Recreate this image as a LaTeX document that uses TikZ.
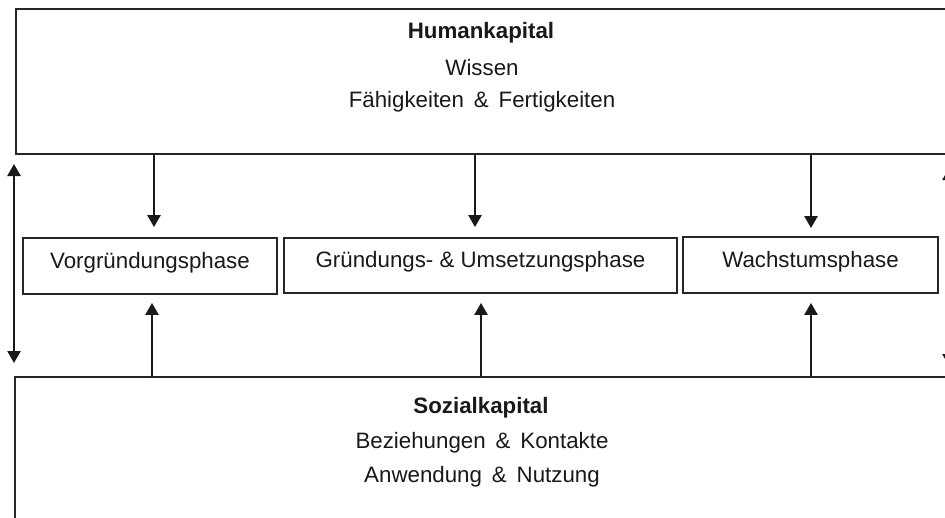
\documentclass[tikz,border=0pt]{standalone}
\usepackage{fontspec}
\setmainfont{Liberation Sans}
\usetikzlibrary{arrows.meta}
\begin{document}
\begin{tikzpicture}[x=1pt,y=-1pt,
  every node/.style={font=\fontsize{22.3}{26}\selectfont, text=black!90},
  bigbox/.style={draw=black!85, line width=1.8pt, anchor=north west, inner sep=0pt},
  phasebox/.style={draw=black!85, line width=1.8pt, inner sep=0pt, text height=16pt, text depth=12pt},
  arr/.style={draw=black!90, line width=2.4pt, -{Triangle[length=12pt,width=13pt]}},
  darr/.style={draw=black!90, line width=2.4pt, {Triangle[length=12pt,width=13pt]}-{Triangle[length=12pt,width=13pt]}},
  lbl/.style={anchor=base}
]
\useasboundingbox (0,0) rectangle (945,517);
\clip (0,0) rectangle (945,517);
\fill[white] (0,0) rectangle (945,517);

% big boxes
\node[bigbox, minimum width=940pt, minimum height=145pt] (hk) at (15,8) {};
\node[bigbox, minimum width=940pt, minimum height=160pt] (sk) at (14,376) {};

% texts in big boxes
\node[lbl, font=\fontsize{22.3}{26}\selectfont\bfseries] (hkt) at (481,38) {Humankapital};
\node[lbl] (hk1) at (482,75) {Wissen};
\node[lbl] (hk2) at (482,107) {Fähigkeiten \,\& \,Fertigkeiten};
\node[lbl, font=\fontsize{22.3}{26}\selectfont\bfseries] (skt) at (481,413) {Sozialkapital};
\node[lbl] (sk1) at (482,448) {Beziehungen \,\& \,Kontakte};
\node[lbl] (sk2) at (482,482) {Anwendung \,\& \,Nutzung};

% phase boxes
\node[phasebox, minimum width=254pt, minimum height=56pt] (v1) at (150,266) {Vorgründungsphase};
\node[phasebox, minimum width=393pt, minimum height=55pt] (v2) at (480.5,265.5) {Gründungs- \& Umsetzungsphase};
\node[phasebox, minimum width=255pt, minimum height=56pt] (v3) at (810.5,265) {Wachstumsphase};

% down arrows
\draw[arr, shorten >=10pt] ([xshift=4pt]v1.north |- hk.south) -- ([xshift=4pt]v1.north);
\draw[arr, shorten >=10pt] ([xshift=-5.5pt]v2.north |- hk.south) -- ([xshift=-5.5pt]v2.north);
\draw[arr, shorten >=8pt] ([xshift=0.5pt]v3.north |- hk.south) -- ([xshift=0.5pt]v3.north);

% up arrows
\draw[arr, shorten >=8pt] ([xshift=2pt]v1.south |- sk.north) -- ([xshift=2pt]v1.south);
\draw[arr, shorten >=9pt] ([xshift=0.5pt]v2.south |- sk.north) -- ([xshift=0.5pt]v2.south);
\draw[arr, shorten >=9pt] ([xshift=0.5pt]v3.south |- sk.north) -- ([xshift=0.5pt]v3.south);

% side double arrows
\coordinate (la1) at (14,164);
\coordinate (la2) at (14,363);
\draw[darr] (la1) -- (la2);
\coordinate (ra1) at (949,168);
\coordinate (ra2) at (949,366);
\draw[darr] (ra1) -- (ra2);
\end{tikzpicture}
\end{document}
